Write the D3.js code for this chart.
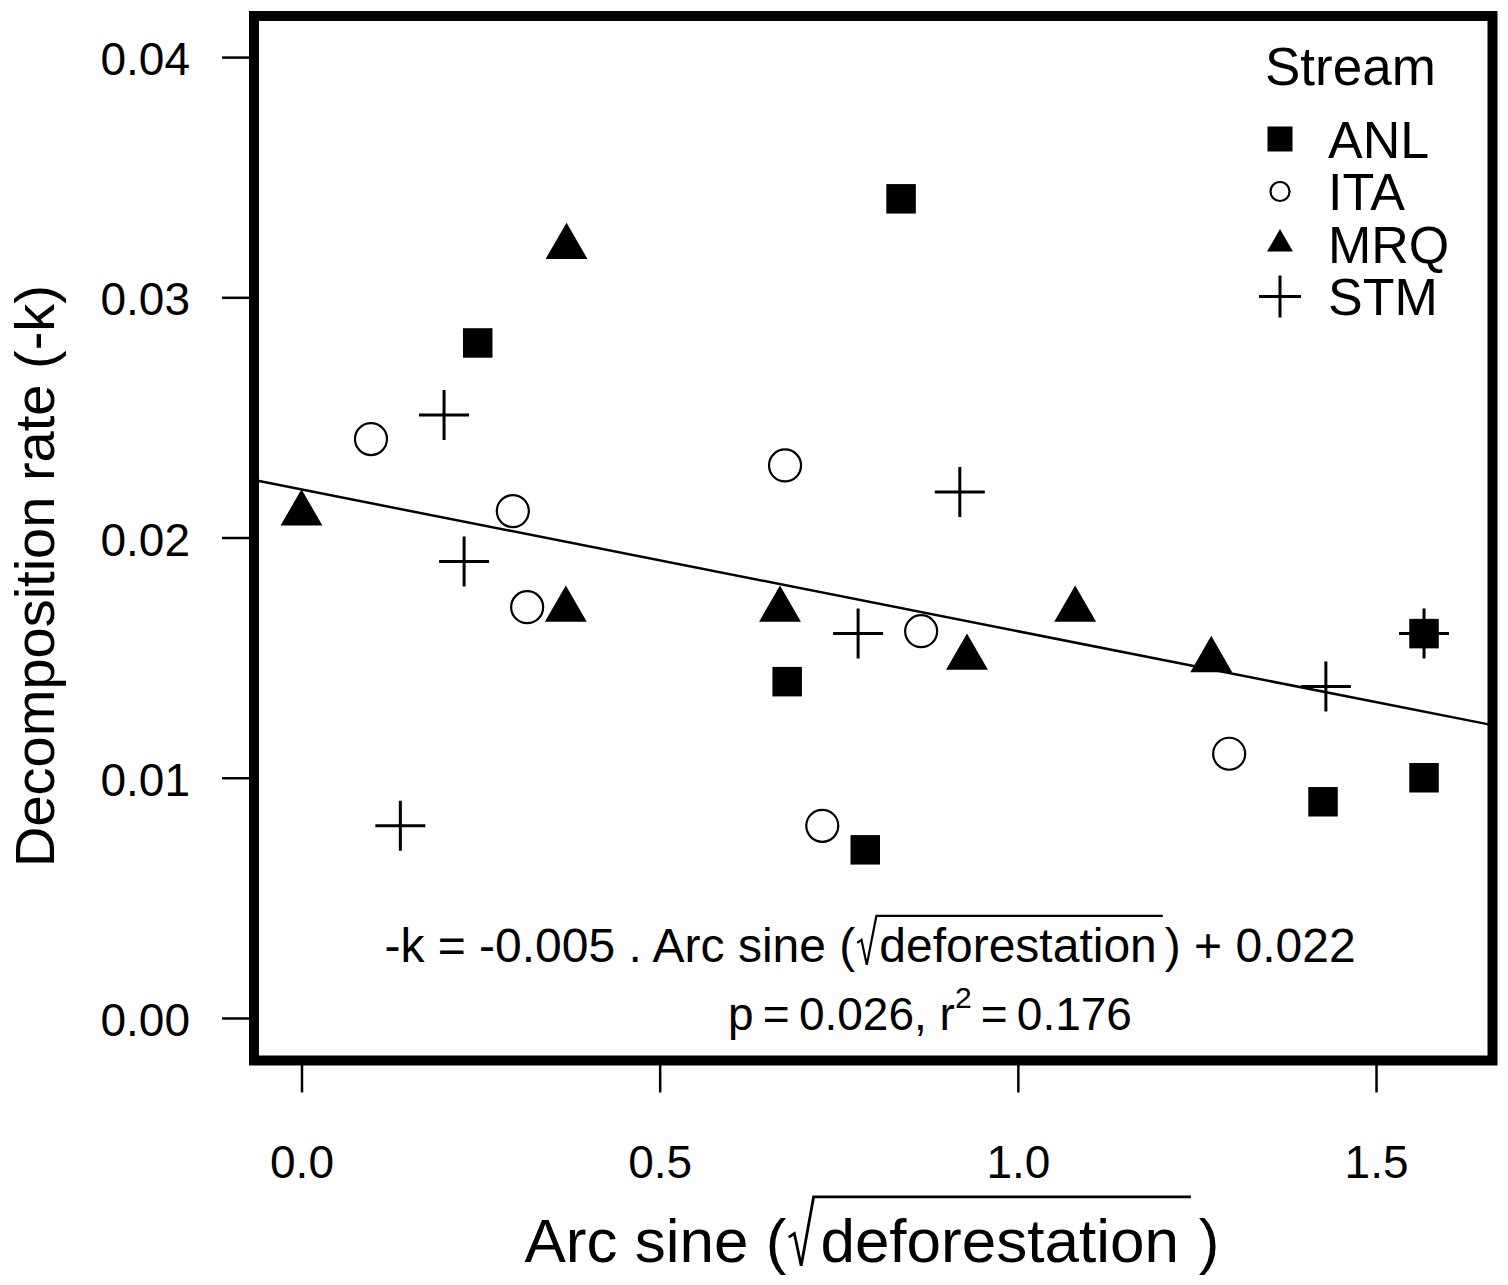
<!DOCTYPE html>
<html><head><meta charset="utf-8">
<script src="https://cdn.jsdelivr.net/npm/d3@7"></script>
<style>
html,body{margin:0;padding:0;background:#fff;}
svg{display:block;}
text{font-family:"Liberation Sans",Arial,Helvetica,sans-serif;fill:#000;}
</style></head><body>
<svg id="chart" width="1508" height="1285"></svg>
<script>
// ---------- data ----------
const streams = ["ANL", "ITA", "MRQ", "STM"];
const anlX = [0.246, 0.837, 0.678, 0.787, 1.426, 1.567, 1.567];
const anlY = [0.0281, 0.0341, 0.0140, 0.0070, 0.0090, 0.0100, 0.0160];
const itaX = [0.097, 0.295, 0.315, 0.675, 0.727, 0.865, 1.295];
const itaY = [0.0241, 0.0211, 0.0171, 0.0230, 0.0080, 0.0161, 0.0110];
const mrqX = [0.000, 0.369, 0.370, 0.668, 0.929, 1.080, 1.270];
const mrqY = [0.0210, 0.0170, 0.0321, 0.0170, 0.0150, 0.0170, 0.0149];
const stmX = [0.199, 0.227, 0.138, 0.919, 0.777, 1.430, 1.567];
const stmY = [0.0251, 0.0190, 0.0080, 0.0219, 0.0160, 0.0138, 0.0160];
const xTicks = [0.0, 0.5, 1.0, 1.5];
const yTicks = [0.00, 0.01, 0.02, 0.03, 0.04];
const xDomain = [-0.0663, 1.6626];
const yDomain = [-0.00177, 0.04171];
const fitIntercept = 0.0220;
const fitSlope = -0.0059;
const legendTitle = "Stream";
const yTitle = "Decomposition rate (-k)";
const eqPre = "-k = -0.005 . Arc sine (";
const eqInner = "deforestation";
const eqPost = ") + 0.022";
const statP = "p\u2009=\u20090.026, r";
const statSup = "2";
const statR = "\u2009=\u20090.176";

// ---------- layout ----------
const svg = d3.select("#chart");
const box = {left: 254, right: 1492.5, top: 16, bottom: 1060.5};
const x = d3.scaleLinear().domain(xDomain).range([box.left, box.right]);
const y = d3.scaleLinear().domain(yDomain).range([box.bottom, box.top]);

svg.append("defs").append("clipPath").attr("id", "plotclip")
  .append("rect").attr("x", box.left).attr("y", box.top)
  .attr("width", box.right - box.left).attr("height", box.bottom - box.top);

// axes
const yAxis = svg.append("g").attr("transform", `translate(${box.left},0)`)
  .call(d3.axisLeft(y).tickValues(yTicks).tickSize(32).tickPadding(32).tickFormat(d3.format(".2f")));
const xAxis = svg.append("g").attr("transform", `translate(0,${box.bottom})`)
  .call(d3.axisBottom(x).tickValues(xTicks).tickSize(32).tickPadding(52.5).tickFormat(d3.format(".1f")));
[yAxis, xAxis].forEach(a => {
  a.select(".domain").remove();
  a.selectAll(".tick line").attr("stroke", "#000").attr("stroke-width", 2.5);
  a.selectAll(".tick text").attr("font-size", 46).attr("font-family", null).attr("fill", "#000");
});
yAxis.attr("font-family", null).selectAll(".tick text").attr("dy", "0.38em");
xAxis.attr("font-family", null);

// regression line
const plot = svg.append("g").attr("clip-path", "url(#plotclip)");
const lineGen = d3.line().x(d => x(d)).y(d => y(fitIntercept + fitSlope * d));
plot.append("path").datum(xDomain).attr("d", lineGen)
  .attr("fill", "none").attr("stroke", "#000").attr("stroke-width", 2.5);

// symbols
const crossPath = h => `M${-h},0H${h}M0,${-h}V${h}`;
function drawSeries(g, xs, ys, kind, big) {
  const pts = xs.map((v, i) => [v, ys[i]]);
  const sel = g.selectAll(null).data(pts).enter();
  drawSym(sel, kind, big, d => x(d[0]), d => y(d[1]));
}
function drawSym(sel, kind, big, fx, fy) {
  if (kind === "ANL") {
    sel.append("path").attr("d", d3.symbol(d3.symbolSquare, big ? 870 : 625)())
      .attr("transform", d => `translate(${fx(d)},${fy(d)})`).attr("fill", "#000");
  } else if (kind === "ITA") {
    sel.append("circle").attr("cx", fx).attr("cy", fy).attr("r", big ? 16 : 9.5)
      .attr("fill", "none").attr("stroke", "#000").attr("stroke-width", 2.2);
  } else if (kind === "MRQ") {
    sel.append("path").attr("d", d3.symbol(d3.symbolTriangle, big ? 760 : 290)())
      .attr("transform", d => `translate(${fx(d)},${fy(d)})`).attr("fill", "#000");
  } else {
    sel.append("path").attr("d", crossPath(big ? 25 : 21))
      .attr("transform", d => `translate(${fx(d)},${fy(d)})`)
      .attr("fill", "none").attr("stroke", "#000").attr("stroke-width", 3);
  }
}
const pts = svg.append("g");
drawSeries(pts, anlX, anlY, "ANL", true);
drawSeries(pts, itaX, itaY, "ITA", true);
drawSeries(pts, mrqX, mrqY, "MRQ", true);
drawSeries(pts, stmX, stmY, "STM", true);

// box
svg.append("rect").attr("x", box.left).attr("y", box.top)
  .attr("width", box.right - box.left).attr("height", box.bottom - box.top)
  .attr("fill", "none").attr("stroke", "#000").attr("stroke-width", 10)
  .attr("stroke-linejoin", "miter");

// legend
const leg = svg.append("g");
leg.append("text").attr("x", 1265).attr("y", 85).attr("font-size", 53).text(legendTitle);
const legRows = leg.selectAll("g.row").data(streams).enter().append("g")
  .attr("class", "row").attr("transform", (d, i) => `translate(0,${139 + i * 52.5})`);
legRows.each(function(d) {
  const g = d3.select(this);
  drawSym(g.selectAll(null).data([d]).enter(), d, false, () => 1280, () => 0);
  g.append("text").attr("x", 1328).attr("y", 18.7).attr("font-size", 52).text(d);
});

// sqrt-style label
function radicalLabel(g, pre, inner, post, fs, cx, by, o) {
  const grp = g.append("g");
  const t1 = grp.append("text").attr("font-size", fs).attr("y", by).text(pre);
  const w1 = t1.node().getComputedTextLength();
  const radW = o.radW * fs;
  const t2 = grp.append("text").attr("font-size", fs).attr("y", by).attr("x", w1 + radW).text(inner);
  const w2 = t2.node().getComputedTextLength();
  const barEnd = w1 + radW + w2 + o.barPad;
  const t3 = grp.append("text").attr("font-size", fs).attr("y", by).attr("x", barEnd + o.postGap).text(post);
  const w3 = t3.node().getComputedTextLength();
  const total = barEnd + o.postGap + w3;
  const top = by - o.barH * fs;
  const rx = w1 + 0.04 * fs;
  grp.append("path")
    .attr("d", `M${rx},${by - 0.40 * fs}L${rx + 0.09 * fs},${by - 0.46 * fs}L${rx + 0.2 * fs},${by + 0.06 * fs}L${rx + 0.4 * fs},${top}L${barEnd},${top}`)
    .attr("fill", "none").attr("stroke", "#000").attr("stroke-width", o.sw);
  grp.attr("transform", `translate(${cx - total / 2},0)`);
}

// annotation
radicalLabel(svg, eqPre, eqInner, eqPost, 48, 870, 962, {radW: 0.5, barPad: 6, postGap: 2, barH: 0.96, sw: 2.2});
const st = svg.append("text").attr("x", 930).attr("y", 1030).attr("font-size", 46).attr("text-anchor", "middle");
st.append("tspan").text(statP);
st.append("tspan").attr("font-size", 30).attr("dy", -22).text(statSup);
st.append("tspan").attr("dy", 22).text(statR);

// axis titles
radicalLabel(svg, "Arc sine (", "deforestation", ")", 62, 872, 1262, {radW: 0.55, barPad: 12, postGap: 8, barH: 1.05, sw: 2.8});
svg.append("text").attr("transform", "translate(54,576) rotate(-90)")
  .attr("text-anchor", "middle").attr("font-size", 56).text(yTitle);
</script>
</body></html>
